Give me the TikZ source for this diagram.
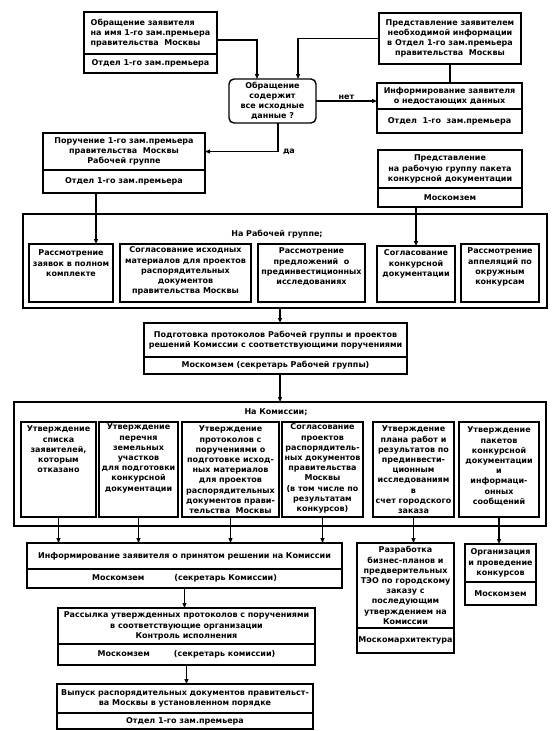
\documentclass[tikz,border=0pt]{standalone}
\usepackage{fontspec}
\usetikzlibrary{arrows.meta}
\newfontfamily\df{DejaVu Sans Bold}
\newcommand{\bx}[7][]{\node[box,#1,minimum width={(#5-#3)*1pt},minimum height={(#6-#4)*1pt}] (#2) at ({(#3+#5)/2},{(#4+#6)/2}) {#7};}
\begin{document}
\begin{tikzpicture}[x=1pt,y=-1pt,
  font=\df\fontsize{8pt}{10.2pt}\selectfont,
  box/.style={draw,line width=1.4pt,inner sep=0pt,outer sep=0pt,align=center},
  frame/.style={draw,line width=1.2pt,inner sep=0pt,outer sep=0pt},
  txt/.style={inner sep=0pt,outer sep=0pt,align=center},
  conn/.style={line width=1.1pt},
  arr/.style={conn,-{Triangle[length=5pt,width=4pt]}}]
\fill[white] (0,0) rectangle (554,731);
\useasboundingbox (0,0) rectangle (554,731);
% frames
\node[frame,minimum width=524pt,minimum height=94pt] (grp) at (285,261) {};
\node[frame,minimum width=532pt,minimum height=124pt] (com) at (280,464) {};
\node[txt] (tg) at (277,234) {На Рабочей группе;};
\node[txt] (tc) at (276,412) {На Комиссии;};
% top boxes
\bx[align=left]{A}{84}{12}{217}{54}{Обращение заявителя\\на имя 1-го зам.премьера\\правительства~~Москвы}
\bx[align=left]{Ao}{84}{54}{217}{73}{Отдел 1-го зам.премьера}
\bx{B}{379}{13}{521}{64}{Представление заявителем\\необходимой информации\\в Отдел 1-го зам.премьера\\правительства~~Москвы}
\bx[rounded corners=5pt]{Dec}{229}{79}{316}{123}{Обращение\\содержит\\все исходные\\данные ?}
\bx{C}{377}{83}{522}{109}{Информирование заявителя\\о недостающих данных}
\bx{Co}{377}{109}{522}{133}{Отдел~~1-го~~зам.премьера}
\bx{D}{43}{133}{205}{170}{Поручение 1-го зам.премьера\\правительства~~Москвы\\Рабочей группе}
\bx{Do}{43}{170}{205}{193}{Отдел 1-го зам.премьера}
\bx{E}{378}{150}{522}{188}{Представление\\на рабочую группу пакета\\конкурсной документации}
\bx{Eo}{378}{188}{522}{207}{Москомзем}
% working group boxes
\bx{g1}{29}{244}{113}{302}{}
\bx{g2}{120}{244}{251}{302}{}
\bx{g3}{258}{244}{365}{302}{}
\bx{g4}{377}{246}{455}{302}{}
\bx{g5}{461}{244}{539}{302}{}
\node[txt,anchor=north] (g1t) at ([yshift=-6pt]g1.north) {Рассмотрение\\заявок в полном\\комплекте};
\node[txt,anchor=north] (g2t) at ([yshift=-3pt]g2.north) {Согласование исходных\\материалов для проектов\\распорядительных\\документов\\правительства Москвы};
\node[txt,anchor=north] (g3t) at ([yshift=-4pt]g3.north) {Рассмотрение\\предложений~~о\\прединвестиционных\\исследованиях};
\node[txt,anchor=north] (g4t) at ([yshift=-4pt]g4.north) {Согласование\\конкурсной\\документации};
\node[txt,anchor=north] (g5t) at ([yshift=-4pt]g5.north) {Рассмотрение\\аппеляций по\\окружным\\конкурсам};
% F
\bx{F}{144}{323}{407}{357}{Подготовка протоколов Рабочей группы и проектов\\решений Комиссии с соответствующими поручениями}
\bx{Fo}{144}{357}{407}{374}{Москомзем (секретарь Рабочей группы)}
% commission boxes
\bx{c1}{21}{422}{96}{517}{}
\bx{c2}{99}{422}{178}{517}{}
\bx{c3}{182}{422}{279}{517}{}
\bx{c4}{282}{422}{363}{517}{}
\bx{c5}{373}{422}{454}{517}{}
\bx{c6}{459}{422}{539}{517}{}
\node[txt,anchor=north] (c1t) at ([yshift=-4pt]c1.north) {Утверждение\\списка\\заявителей,\\которым\\отказано};
\node[txt,anchor=north] (c2t) at ([yshift=-2pt]c2.north) {Утверждение\\перечня\\земельных\\участков\\для подготовки\\конкурсной\\документации};
\node[txt,anchor=north] (c3t) at ([yshift=-4pt]c3.north) {Утверждение\\протоколов с\\поручениями о\\подготовке исход-\\ных материалов\\для проектов\\распорядительных\\документов прави-\\тельства~~Москвы};
\node[txt,anchor=north] (c4t) at ([yshift=-2pt]c4.north) {Согласование\\проектов\\распорядитель-\\ных документов\\правительства\\Москвы\\(в том числе по\\результатам\\конкурсов)};
\node[txt,anchor=north] (c5t) at ([yshift=-4pt]c5.north) {Утверждение\\плана работ и\\результатов по\\прединвести-\\ционным\\исследованиям\\в\\счет городского\\заказа};
\node[txt,anchor=north] (c6t) at ([yshift=-5pt]c6.north) {Утверждение\\пакетов\\конкурсной\\документации\\и\\информаци-\\онных\\сообщений};
% lower boxes
\bx{G}{27}{543}{342}{569}{Информирование заявителя о принятом решении на Комиссии}
\bx{Go}{27}{569}{342}{588}{Москомзем\hspace{30pt}(секретарь Комиссии)}
\bx{H}{58}{608}{315}{644}{Рассылка утвержденных протоколов с поручениями\\в соответствующие организации\\Контроль исполнения}
\bx{Ho}{58}{644}{315}{665}{Москомзем\hspace{24pt}(секретарь комиссии)}
\bx{I}{57}{684}{313}{713}{Выпуск распорядительных документов правительст-\\ва Москвы в установленном порядке}
\bx{Io}{57}{713}{313}{729}{Отдел 1-го зам.премьера}
\bx{J}{357}{543}{454}{628}{Разработка\\бизнес-планов и\\предверительных\\ТЭО по городскому\\заказу с\\последующим\\утверждением на\\Комиссии}
\bx{Jo}{357}{628}{454}{653}{Москомархитектура}
\bx{K}{465}{544}{536}{582}{Организация\\и проведение\\конкурсов}
\bx{Ko}{465}{582}{536}{605}{Москомзем}
% connectors
\draw[arr] ([yshift=-7pt]A.east) -| ([xshift=-15.5pt]Dec.north);
\draw[arr] (B.west) -| ([xshift=25.5pt]Dec.north);
\draw[conn] (B.south) -- (B.south |- C.north);
\draw[arr] (Dec.east) -- (Dec.east -| C.west) node[midway,above=1.5pt,txt] {нет};
\draw[arr] ([xshift=5.5pt]Dec.south) |- (D.east) node[pos=0.5,right=5pt,txt] {да};
\draw[arr] ([xshift=-28pt]Do.south) -- ([xshift=-28pt]Do.south |- g1.north);
\draw[arr] (Eo.south -| g4.north) -- (g4.north);
\draw[arr] ([xshift=4.5pt]F.north |- grp.south) -- ([xshift=4.5pt]F.north);
\draw[arr] ([xshift=4.5pt]Fo.south) -- ([xshift=4.5pt]Fo.south |- com.north);
\draw[arr] (c1.south) -- (c1.south |- G.north);
\draw[arr] (c2.south) -- (c2.south |- G.north);
\draw[arr] (c3.south) -- (c3.south |- G.north);
\draw[arr] (c4.south) -- (c4.south |- G.north);
\draw[arr] (c5.south) -- (c5.south |- J.north);
\draw[arr] (c6.south) -- (c6.south |- K.north);
\draw[arr] (Go.south) -- (Go.south |- H.north);
\draw[arr] (Ho.south) -- (Ho.south |- I.north);
\end{tikzpicture}
\end{document}
